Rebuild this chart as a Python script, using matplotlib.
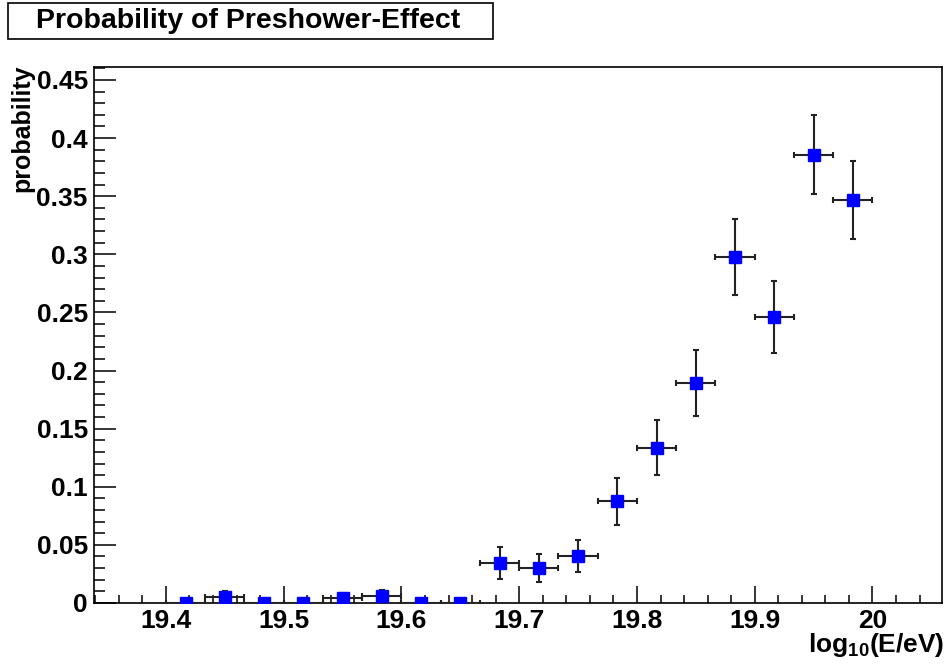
import matplotlib
matplotlib.use("Agg")
import matplotlib.pyplot as plt
from matplotlib.patches import Rectangle
from matplotlib.ticker import MultipleLocator

plt.rcParams['font.family'] = ['Liberation Sans', 'DejaVu Sans']
plt.rcParams['font.weight'] = 'bold'
plt.rcParams['mathtext.fontset'] = 'custom'
plt.rcParams['mathtext.rm'] = 'Liberation Sans:bold'
plt.rcParams['mathtext.it'] = 'Liberation Sans:bold'
plt.rcParams['mathtext.bf'] = 'Liberation Sans:bold'

# bin centres in log10(E/eV), bin width 1/30
log_e = [19.4167, 19.4500, 19.4833, 19.5167, 19.5500, 19.5833,
         19.6167, 19.6500, 19.6833, 19.7167, 19.7500, 19.7833,
         19.8167, 19.8500, 19.8833, 19.9167, 19.9500, 19.9833]
bin_half = [0.01667] * len(log_e)

prob = [0.0, 0.0052, 0.0, 0.0, 0.0045, 0.0058, 0.0, 0.0,
        0.0344, 0.0304, 0.0404, 0.0875, 0.1336, 0.1893,
        0.2977, 0.2460, 0.3855, 0.3470]
prob_err = [0.0, 0.0050, 0.0, 0.0, 0.0045, 0.0055, 0.0, 0.0,
            0.0135, 0.0120, 0.0137, 0.0204, 0.0238, 0.0284,
            0.0327, 0.0310, 0.0340, 0.0335]

x_ticks = [19.4, 19.5, 19.6, 19.7, 19.8, 19.9, 20.0]
x_labels = ['19.4', '19.5', '19.6', '19.7', '19.8', '19.9', '20']
y_ticks = [0, 0.05, 0.1, 0.15, 0.2, 0.25, 0.3, 0.35, 0.4, 0.45]
y_labels = ['0', '0.05', '0.1', '0.15', '0.2', '0.25', '0.3', '0.35', '0.4', '0.45']

fig = plt.figure(figsize=(9.47, 6.69), dpi=100)
ax = fig.add_axes([0.0993, 0.0987, 0.8954, 0.8012])

ax.errorbar(log_e, prob, xerr=bin_half, yerr=prob_err, fmt='s',
            color='#0000ff', markersize=8, ecolor='#222222',
            elinewidth=1.5, capsize=2, capthick=1.5, zorder=3)

ax.set_xticks(x_ticks)
ax.set_xticklabels(x_labels)
ax.set_yticks(y_ticks)
ax.set_yticklabels(y_labels)
ax.xaxis.set_minor_locator(MultipleLocator(0.02))
ax.yaxis.set_minor_locator(MultipleLocator(0.01))
ax.set_xlim(19.339, 20.059)
ax.set_ylim(0, 0.4612)

ax.tick_params(axis='both', which='both', direction='in', top=False, right=False,
               labelsize=19, width=1.1, color='black')
ax.tick_params(axis='x', which='major', length=12, pad=4)
ax.tick_params(axis='x', which='minor', length=6)
ax.tick_params(axis='y', which='major', length=16, pad=4.5)
ax.tick_params(axis='y', which='minor', length=8)
for lab in ax.get_xticklabels() + ax.get_yticklabels():
    lab.set_fontweight('bold')

for s in ax.spines.values():
    s.set_linewidth(1.2)

ax.set_ylabel('probability', fontsize=18, fontweight='bold')
ax.yaxis.set_label_coords(-0.07, 1.004)
ax.yaxis.label.set_horizontalalignment('right')

ax.text(1.003, -0.052, r'log$_{10}$(E/eV)', transform=ax.transAxes,
        ha='right', va='top', fontsize=19, fontweight='bold')

# title box
fig.patches.append(Rectangle((0.0084, 0.9417), 0.5122, 0.0538,
                             transform=fig.transFigure, facecolor='white',
                             edgecolor='black', linewidth=1.2))
fig.text(0.2623, 0.9686, 'Probability of Preshower-Effect', ha='center',
         va='center', fontsize=20.5, fontweight='bold')

fig.savefig('out.png', dpi=100)
